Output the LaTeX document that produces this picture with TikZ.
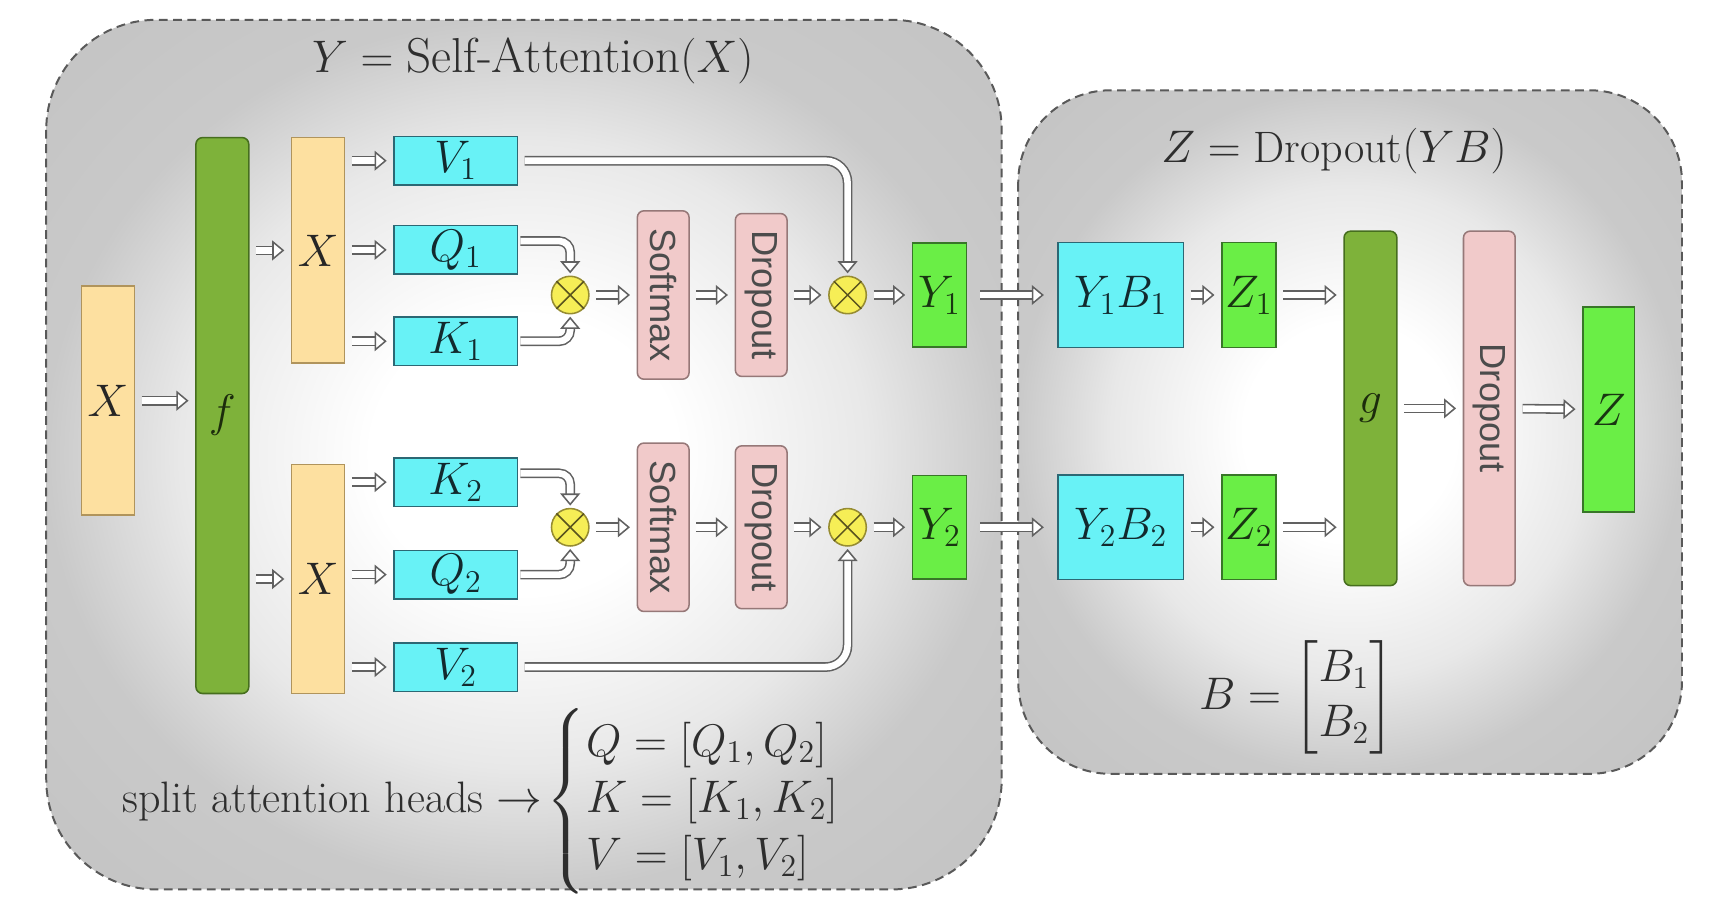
\documentclass[tikz,border=0pt]{standalone}
\usepackage{amsmath,amssymb}
\usepackage{fontspec}
\newfontfamily\opfont{Liberation Sans}
\usetikzlibrary{calc, positioning, arrows.meta}

\definecolor{boxyellow}{RGB}{253,224,160}
\definecolor{lineyellow}{RGB}{176,148,92}
\definecolor{boxolive}{RGB}{126,178,58}
\definecolor{lineolive}{RGB}{70,110,30}
\definecolor{boxcyan}{RGB}{104,242,246}
\definecolor{linecyan}{RGB}{44,104,116}
\definecolor{boxpink}{RGB}{241,202,202}
\definecolor{linepink}{RGB}{150,120,120}
\definecolor{boxgreen}{RGB}{106,238,70}
\definecolor{linegreen}{RGB}{56,118,40}
\definecolor{dotyellow}{RGB}{246,238,86}
\definecolor{dotline}{RGB}{150,140,50}

\pgfdeclareradialshading{panelshade}{\pgfpoint{0bp}{0bp}}{%
  color(0bp)=(white); color(8bp)=(white); color(18bp)=(black!9);
  color(25bp)=(black!21); color(50bp)=(black!27)}

\tikzset{
  panel/.style={draw=black!65, line width=0.9pt, dash pattern=on 4pt off 2.5pt,
                shade, shading=panelshade},
  tensor/.style={draw, line width=0.7pt, inner sep=0pt, font=\fontsize{19.5}{22}\selectfont},
  inbox/.style={tensor, fill=boxyellow, draw=lineyellow, text=black!85, minimum width=24pt},
  mapbox/.style={tensor, fill=boxolive, draw=lineolive, rounded corners=3pt,
                 minimum width=24pt, text=lineolive!40!black},
  qkvbox/.style={tensor, fill=boxcyan, draw=linecyan, text=linecyan!40!black,
                 minimum width=56pt, minimum height=22pt},
  outbox/.style={tensor, fill=boxgreen, draw=linegreen, text=linegreen!45!black},
  opbox/.style={draw=linepink, fill=boxpink, line width=0.7pt, rounded corners=3pt,
                inner sep=0pt, minimum width=23.5pt, text=black!70,
                font=\opfont\fontsize{16.5}{18}\selectfont},
  mult/.style={circle, draw=dotline, fill=dotyellow, line width=0.7pt,
               minimum size=17pt, inner sep=0pt},
  arr/.style={draw=black!62, line width=0.7pt, double=white, double distance=3pt,
              shorten <=3pt, shorten >=3pt,
              -{Triangle[width=9pt, length=5.5pt, fill=white, line width=0.7pt]}},
  title/.style={text=black!82},
}

\begin{document}
\begin{tikzpicture}[x=0.5pt, y=-0.5pt]
  \fill[white] (0,0) rectangle (1568,834);
  \useasboundingbox (0,0) rectangle (1568,834);

  \path[panel, rounded corners=50pt] (42,18) rectangle (910,808);
  \path[panel, rounded corners=42pt] (925,82) rectangle (1528,703);

  \node[title, font=\fontsize{22.3}{26}\selectfont] (attn) at (484,55)
      {$Y = \text{Self-Attention}(X)$};
  \node[title, font=\fontsize{20}{24}\selectfont] (drop) at (1212,137)
      {$Z = \text{Dropout}(YB)$};

  \node[inbox, minimum height=104pt] (xin) at (98,364) {$X$};
  \node[mapbox, minimum height=252.5pt] (f) at (202,377.5) {$f$};
  \node[inbox, minimum height=102.5pt] (xa) at (289,227.5) {$X$};
  \node[inbox, minimum height=104pt] (xb) at (289,526) {$X$};

  \draw[arr] (xin.east) -- (xin.east -| f.west);
  \draw[arr] (f.east |- xa) -- (xa.west);
  \draw[arr] (f.east |- xb) -- (xb.west);

  \foreach \nm/\lbl/\yy in {v1/V_1/146, q1/Q_1/227, k1/K_1/310,
                            k2/K_2/438, q2/Q_2/522, v2/V_2/606}
    \node[qkvbox] (\nm) at (414,\yy) {$\lbl$};
  \foreach \nm in {v1,q1,k1}
    \draw[arr] (xa.east |- \nm) -- (\nm.west);
  \foreach \nm in {k2,q2,v2}
    \draw[arr] (xb.east |- \nm) -- (\nm.west);

  \foreach \i/\yy in {1/268, 2/479} {
    \node[mult] (m\i) at (518,\yy) {};
    \node[opbox, minimum height=76.5pt] (sm\i) at (602.5,\yy) {\rotatebox{-90}{Softmax}};
    \node[opbox, minimum height=74pt] (dp\i) at (691.5,\yy) {\rotatebox{-90}{Dropout}};
    \node[mult] (n\i) at (770,\yy) {};
    \node[outbox, minimum width=24.5pt, minimum height=47pt] (y\i) at (853.5,\yy) {$Y_\i$};
    \foreach \c in {m\i,n\i}
      \draw[dotline!60!black, line width=0.7pt] (\c.north west) -- (\c.south east)
                                                (\c.north east) -- (\c.south west);
    \draw[arr] (m\i) -- (sm\i);
    \draw[arr] (sm\i) -- (dp\i);
    \draw[arr] (dp\i) -- (n\i);
    \draw[arr] (n\i) -- (y\i);
  }

  \draw[arr, shorten <=1pt, shorten >=1pt, rounded corners=5pt] ([yshift=4pt]q1.east) -| (m1.north);
  \draw[arr, shorten <=1pt, shorten >=1pt, rounded corners=5pt] (k1.east) -| (m1.south);
  \draw[arr, shorten <=1pt, shorten >=1pt, rounded corners=5pt] ([yshift=4pt]k2.east) -| (m2.north);
  \draw[arr, shorten <=1pt, shorten >=1pt, rounded corners=5pt] (q2.east) -| (m2.south);
  \draw[arr, shorten >=1pt, rounded corners=10pt] (v1.east) -| (n1.north);
  \draw[arr, shorten >=1pt, rounded corners=10pt] (v2.east) -| (n2.south);

  \foreach \i/\yy in {1/268, 2/479} {
    \node[qkvbox, minimum width=57pt, minimum height=47.5pt] (yb\i) at (1018,\yy) {$Y_\i B_\i$};
    \node[outbox, minimum width=24.5pt, minimum height=47.5pt] (z\i) at (1134.5,\yy) {$Z_\i$};
    \draw[arr, shorten <=6pt, shorten >=6pt] (y\i) -- (yb\i);
    \draw[arr] (yb\i) -- (z\i);
  }

  \node[mapbox, minimum height=161pt] (g) at (1245,371) {$g$};
  \node[opbox, minimum height=161pt] (dpz) at (1353,371) {\rotatebox{-90}{Dropout}};
  \node[outbox, minimum width=23.5pt, minimum height=93pt] (z) at (1461.5,372) {$Z$};

  \draw[arr] (z1.east) -- (z1.east -| g.west);
  \draw[arr] (z2.east) -- (z2.east -| g.west);
  \draw[arr] (g) -- (dpz);
  \draw[arr] (dpz) -- (z);

  \node[title, anchor=west, font=\fontsize{20}{24}\selectfont] (heads) at (104,728)
      {$\text{split attention heads} \rightarrow\!\left\{\def\arraystretch{1.07}
        \begin{array}{@{}l@{}} Q = [Q_1, Q_2] \\ K = [K_1, K_2] \\ V = [V_1, V_2]
        \end{array}\right.$};
  \node[title, font=\fontsize{21.5}{25}\selectfont] (bmat) at (1178,634)
      {$B = \begin{bmatrix} B_1 \\ B_2 \end{bmatrix}$};
\end{tikzpicture}
\end{document}
